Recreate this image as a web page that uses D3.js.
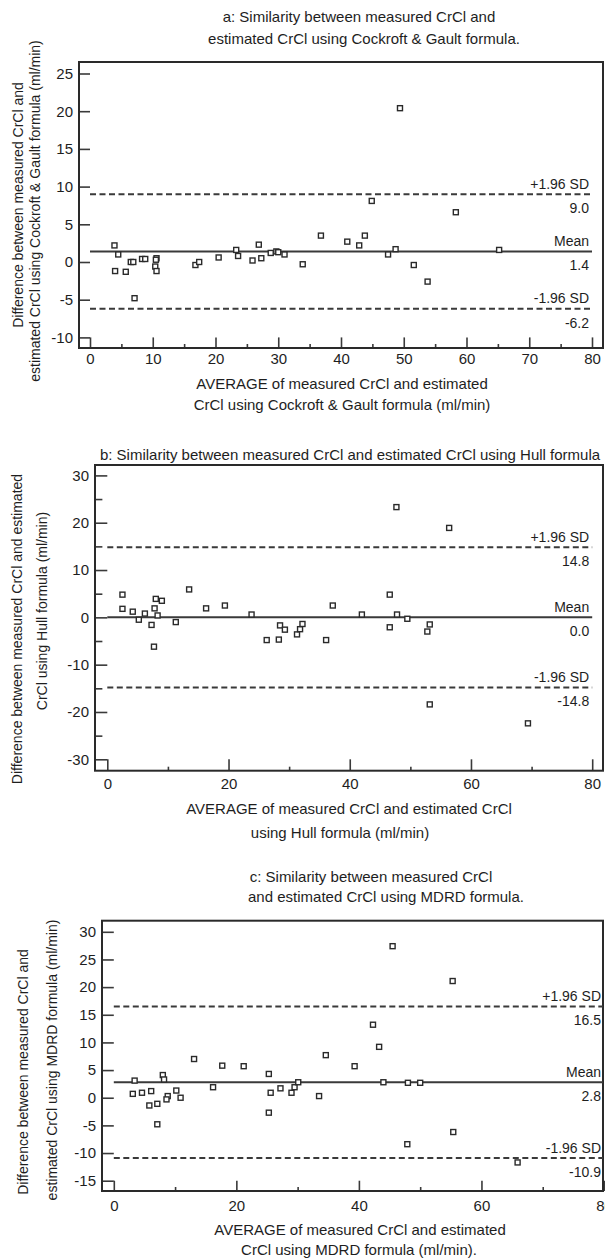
<!DOCTYPE html>
<html>
<head>
<meta charset="utf-8">
<script src="https://cdn.jsdelivr.net/npm/d3@7"></script>
<style>
  body { margin: 0; background: #fff; }
  svg { display: block; font-family: "Liberation Sans", Arial, sans-serif; }
</style>
</head>
<body>
<div id="chart"></div>
<script>
// ---- data ----
const limitNames = ["+1.96 SD", "Mean", "-1.96 SD"];

// a: Cockroft & Gault
const avgA = [3.9, 4.5, 4.0, 5.7, 6.5, 6.9, 7.1, 8.3, 8.8, 10.4, 10.6, 10.5, 10.6, 16.8, 17.4, 20.5, 23.3, 23.6, 25.9, 26.9, 27.3, 28.8, 29.7, 30.0, 31.0, 33.9, 36.8, 41.0, 42.9, 43.8, 44.9, 47.5, 48.7, 49.4, 51.6, 53.8, 58.3, 65.2];
const diffA = [2.2, 1.0, -1.2, -1.3, 0.0, 0.0, -4.8, 0.4, 0.4, -0.6, 0.5, 0.3, -1.2, -0.4, 0.0, 0.6, 1.6, 0.8, 0.2, 2.3, 0.5, 1.2, 1.4, 1.3, 1.0, -0.3, 3.5, 2.7, 2.2, 3.5, 8.1, 1.0, 1.7, 20.4, -0.4, -2.6, 6.6, 1.6];
const limitsA = [9.0, 1.4, -6.2];
const xTicksA = [0, 10, 20, 30, 40, 50, 60, 70, 80];
const xMinorA = [5, 15, 25, 35, 45, 55, 65, 75];
const yTicksA = [-10, -5, 0, 5, 10, 15, 20, 25];
const yMinorA = [];

// b: Hull
const avgB = [2.5, 2.5, 4.2, 5.2, 6.2, 7.3, 7.7, 7.8, 8.0, 8.3, 9.0, 11.3, 13.5, 16.3, 19.4, 23.8, 26.3, 28.3, 28.5, 29.3, 31.3, 31.8, 32.2, 36.1, 37.2, 42.0, 46.6, 46.6, 47.7, 47.8, 49.5, 52.8, 53.2, 53.2, 56.4, 69.4];
const diffB = [4.8, 1.8, 1.2, -0.5, 0.8, -1.6, -6.2, 1.9, 3.9, 0.4, 3.5, -1.0, 5.9, 1.9, 2.5, 0.6, -4.8, -4.7, -1.7, -2.6, -3.6, -2.5, -1.4, -4.8, 2.5, 0.6, 4.8, -2.1, 23.3, 0.6, -0.3, -3.0, -1.5, -18.4, 18.9, -22.4];
const limitsB = [14.8, 0.0, -14.8];
const xTicksB = [0, 20, 40, 60, 80];
const xMinorB = [10, 30, 50, 70];
const yTicksB = [-30, -20, -10, 0, 10, 20, 30];
const yMinorB = [-25, -15, -5, 5, 15, 25];

// c: MDRD
const avgC = [3.4, 3.1, 4.6, 6.1, 5.8, 7.1, 7.1, 8.0, 8.2, 8.8, 8.6, 10.2, 10.9, 13.1, 16.2, 17.7, 21.2, 25.3, 25.3, 25.6, 27.2, 29.0, 29.5, 30.1, 33.5, 34.6, 39.3, 42.3, 43.3, 44.0, 45.5, 48.0, 47.9, 50.0, 55.3, 55.4, 65.9];
const diffC = [3.1, 0.7, 0.9, 1.2, -1.4, -1.1, -4.8, 4.1, 3.3, 0.3, -0.3, 1.3, 0.0, 7.0, 1.9, 5.8, 5.7, 4.3, -2.7, 0.9, 1.7, 0.9, 1.9, 2.8, 0.3, 7.7, 5.7, 13.2, 9.2, 2.8, 27.4, 2.7, -8.4, 2.7, 21.1, -6.2, -11.7];
const limitsC = [16.5, 2.8, -10.9];
const xTicksC = [0, 20, 40, 60, 80];
const xMinorC = [10, 30, 50, 70];
const yTicksC = [-15, -10, -5, 0, 5, 10, 15, 20, 25, 30];
const yMinorC = [];

// ---- text ----
const titleA = ["a: Similarity between measured CrCl and", "estimated CrCl using Cockroft & Gault formula."];
const xTitleA = ["AVERAGE of measured CrCl and estimated", "CrCl using Cockroft & Gault formula (ml/min)"];
const yTitleA = ["Difference between measured CrCl and", "estimated CrCl using Cockroft & Gault formula (ml/min)"];

const titleB = ["b: Similarity between measured CrCl and estimated CrCl using Hull formula"];
const xTitleB = ["AVERAGE of measured CrCl and estimated CrCl", "using Hull formula (ml/min)"];
const yTitleB = ["Difference between measured CrCl and estimated", "CrCl using Hull formula (ml/min)"];

const titleC = ["c: Similarity between measured CrCl", "and estimated CrCl using MDRD formula."];
const xTitleC = ["AVERAGE of measured CrCl and estimated", "CrCl using MDRD formula (ml/min)."];
const yTitleC = ["Difference between measured CrCl and", "estimated CrCl using MDRD formula (ml/min)"];

// ---- layout (pixels) ----
const W = 605, H = 1260;
const panels = [
  {
    avg: avgA, diff: diffA, limits: limitsA,
    xTicks: xTicksA, xMinor: xMinorA, yTicks: yTicksA, yMinor: yMinorA,
    title: titleA, xTitle: xTitleA, yTitle: yTitleA,
    frame: { left: 79, top: 62, right: 603, bottom: 348 },
    xRange: [90, 592], yDomain: [-10, 25], yRange: [337.4, 73.5],
    titleX: [359, 364], titleY: [22, 44],
    xTitleX: [342, 342], xTitleY: [389, 410], xLabPad: 5,
    yTitleX: [18, 35], yTitleY: [205, 211]
  },
  {
    avg: avgB, diff: diffB, limits: limitsB,
    xTicks: xTicksB, xMinor: xMinorB, yTicks: yTicksB, yMinor: yMinorB,
    title: titleB, xTitle: xTitleB, yTitle: yTitleB,
    frame: { left: 95, top: 465, right: 603, bottom: 770.7 },
    xRange: [107.3, 592.2], yDomain: [-30, 30], yRange: [759.3, 475.4],
    titleX: [350], titleY: [460],
    xTitleX: [349, 340], xTitleY: [814, 838], xLabPad: 8,
    yTitleX: [17, 42], yTitleY: [629, 611]
  },
  {
    avg: avgC, diff: diffC, limits: limitsC,
    xTicks: xTicksC, xMinor: xMinorC, yTicks: yTicksC, yMinor: yMinorC,
    title: titleC, xTitle: xTitleC, yTitle: yTitleC,
    frame: { left: 102, top: 920.7, right: 603, bottom: 1191 },
    xRange: [113.8, 604], yDomain: [-15, 30], yRange: [1180.7, 931.8],
    titleX: [371, 386], titleY: [882, 902],
    xTitleX: [360, 359], xTitleY: [1235, 1255], xLabPad: 9,
    yTitleX: [23, 52], yTitleY: [1072, 1060]
  }
];

const INK = "#1e1e1e";
const LINE = "#3a3a3a";
const FS_TEXT = 15;    // titles, axis titles
const FS_TICK = 15;
const FS_LIMIT = 14;
const FS_YTITLE = 14;
const fmtTick = d => String(d);           // plain hyphen minus, as in the figure
const fmtLimit = d => d.toFixed(1);

const svg = d3.select("#chart").append("svg")
  .attr("width", W).attr("height", H)
  .attr("viewBox", `0 0 ${W} ${H}`)
  .style("background", "#fff");

function drawPanel(p) {
  const g = svg.append("g");
  const f = p.frame;
  const x = d3.scaleLinear().domain([0, 80]).range(p.xRange);
  const y = d3.scaleLinear().domain(p.yDomain).range(p.yRange);

  const yTickLen = x(0) - f.left;
  const xTickLen = f.bottom - y(p.yDomain[0]);

  // y axis: inward ticks on the frame's left edge
  g.append("g")
    .attr("transform", `translate(${f.left},0)`)
    .call(d3.axisLeft(y).tickValues(p.yTicks).tickFormat(fmtTick)
      .tickSize(-yTickLen).tickPadding(6));
  if (p.yMinor.length) {
    g.append("g")
      .attr("transform", `translate(${f.left},0)`)
      .call(d3.axisLeft(y).tickValues(p.yMinor).tickFormat("").tickSize(-yTickLen * 0.6));
  }

  // x axis: inward ticks on the frame's bottom edge
  g.append("g")
    .attr("transform", `translate(0,${f.bottom})`)
    .call(d3.axisBottom(x).tickValues(p.xTicks).tickFormat(fmtTick)
      .tickSize(-xTickLen).tickPadding(p.xLabPad));
  g.append("g")
    .attr("transform", `translate(0,${f.bottom})`)
    .call(d3.axisBottom(x).tickValues(p.xMinor).tickFormat("").tickSize(-4));

  g.selectAll(".domain").remove();
  g.selectAll(".tick line").attr("stroke", LINE).attr("stroke-width", 1.6);
  g.selectAll(".tick text").attr("fill", INK).attr("font-size", FS_TICK)
    .attr("font-family", "Liberation Sans, Arial, sans-serif");

  // frame
  g.append("rect")
    .attr("x", f.left).attr("y", f.top)
    .attr("width", f.right - f.left).attr("height", f.bottom - f.top)
    .attr("fill", "none").attr("stroke", "#2a2a2a").attr("stroke-width", 2);

  // mean and limits of agreement
  const x0 = x(0), x1 = Math.min(x(80), f.right);
  p.limits.forEach((v, i) => {
    const yy = y(v);
    g.append("line")
      .attr("x1", x0).attr("x2", x1).attr("y1", yy).attr("y2", yy)
      .attr("stroke", LINE).attr("stroke-width", 2)
      .attr("stroke-dasharray", i === 1 ? null : "6,3.5");
    g.append("text")
      .attr("x", x(80) - 3).attr("y", yy - 5.5)
      .attr("text-anchor", "end").attr("font-size", FS_LIMIT).attr("fill", INK)
      .text(limitNames[i]);
    g.append("text")
      .attr("x", x(80) - 3).attr("y", yy + 19)
      .attr("text-anchor", "end").attr("font-size", FS_LIMIT).attr("fill", INK)
      .text(fmtLimit(v));
  });

  // points: small open squares
  const s = 5;
  g.append("g").selectAll("rect")
    .data(d3.zip(p.avg, p.diff))
    .join("rect")
    .attr("x", d => x(d[0]) - s / 2).attr("y", d => y(d[1]) - s / 2)
    .attr("width", s).attr("height", s)
    .attr("fill", "#fff").attr("stroke", "#2a2a2a").attr("stroke-width", 1.4);

  // titles
  p.title.forEach((t, i) => {
    g.append("text")
      .attr("x", p.titleX[i]).attr("y", p.titleY[i])
      .attr("text-anchor", "middle").attr("font-size", FS_TEXT).attr("fill", INK)
      .text(t);
  });
  p.xTitle.forEach((t, i) => {
    g.append("text")
      .attr("x", p.xTitleX[i]).attr("y", p.xTitleY[i])
      .attr("text-anchor", "middle").attr("font-size", FS_TEXT).attr("fill", INK)
      .text(t);
  });
  p.yTitle.forEach((t, i) => {
    g.append("text")
      .attr("transform", `translate(${p.yTitleX[i]},${p.yTitleY[i]}) rotate(-90)`)
      .attr("text-anchor", "middle").attr("dominant-baseline", "central")
      .attr("font-size", FS_YTITLE).attr("fill", INK)
      .text(t);
  });
}

panels.forEach(drawPanel);
</script>
</body>
</html>
